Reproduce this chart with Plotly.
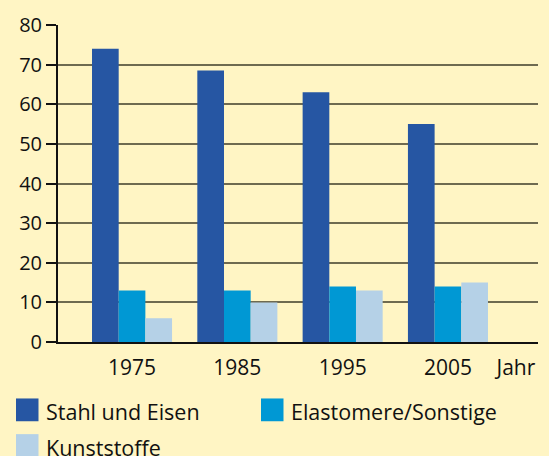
import plotly.graph_objects as go

years = ["1975", "1985", "1995", "2005"]
series_names = ["Stahl und Eisen", "Elastomere/Sonstige", "Kunststoffe"]
stahl = [74, 68.5, 63, 55]
elastomere = [13, 13, 14, 14]
kunststoffe = [6, 10, 13, 15]
colors = ["#2656A3", "#0098D4", "#B5D1E7"]
y_ticks = [0, 10, 20, 30, 40, 50, 60, 70, 80]
x_unit_label = "Jahr"

values = [stahl, elastomere, kunststoffe]
xpos = list(range(len(years)))

FONT = "Open Sans, Noto Sans, sans-serif"
BG = "#FFF5C4"

fig = go.Figure()
for name, vals, col in zip(series_names, values, colors):
    fig.add_trace(go.Bar(x=xpos, y=vals, name=name, marker=dict(color=col, line=dict(width=0)),
                         showlegend=False))

L, R, T, B = 58, 11, 22, 114
W, H = 549, 456
pw, ph = W - L - R, H - T - B

def px_x(px):
    return (px - L) / pw

def px_y(py):
    return (H - B - py) / ph

# manual legend
legend_items = [(16, 399, 0), (261, 399, 1), (16, 435, 2)]
for x0, y0, i in legend_items:
    fig.add_shape(type="rect", xref="paper", yref="paper",
                  x0=px_x(x0), x1=px_x(x0 + 22.5), y0=px_y(y0), y1=px_y(y0 + 23),
                  fillcolor=colors[i], line=dict(width=0), layer="above")
    fig.add_annotation(xref="paper", yref="paper", x=px_x(x0 + 28), y=px_y(y0 + 13),
                       text=series_names[i], showarrow=False, xanchor="left", yanchor="middle",
                       font=dict(family=FONT, size=21.5, color="#111111"))

fig.update_layout(
    width=W, height=H,
    margin=dict(l=L, r=R, t=T, b=B, pad=0),
    paper_bgcolor=BG, plot_bgcolor=BG,
    barmode="group", bargap=0.24, bargroupgap=0,
    font=dict(family=FONT, size=21, color="#111111"),
    xaxis=dict(range=[-0.703, 3.855], tickvals=xpos + [3.645], ticktext=years + [x_unit_label],
               showgrid=False, zeroline=False, showline=True, linecolor="#111111", linewidth=2,
               ticks="", ticklabelstandoff=6, tickfont=dict(size=21)),
    yaxis=dict(range=[0, 80], tickvals=y_ticks, showgrid=True, gridcolor="#6E6A50", gridwidth=1.5,
               zeroline=False, showline=True, linecolor="#111111", linewidth=2,
               ticks="outside", ticklen=10, tickwidth=1.5, tickcolor="#111111",
               tickfont=dict(size=20)),
)

fig.write_html("out.html", config={"displayModeBar": False},
               post_script="document.body.style.margin='0';document.body.style.background='%s';" % BG)
